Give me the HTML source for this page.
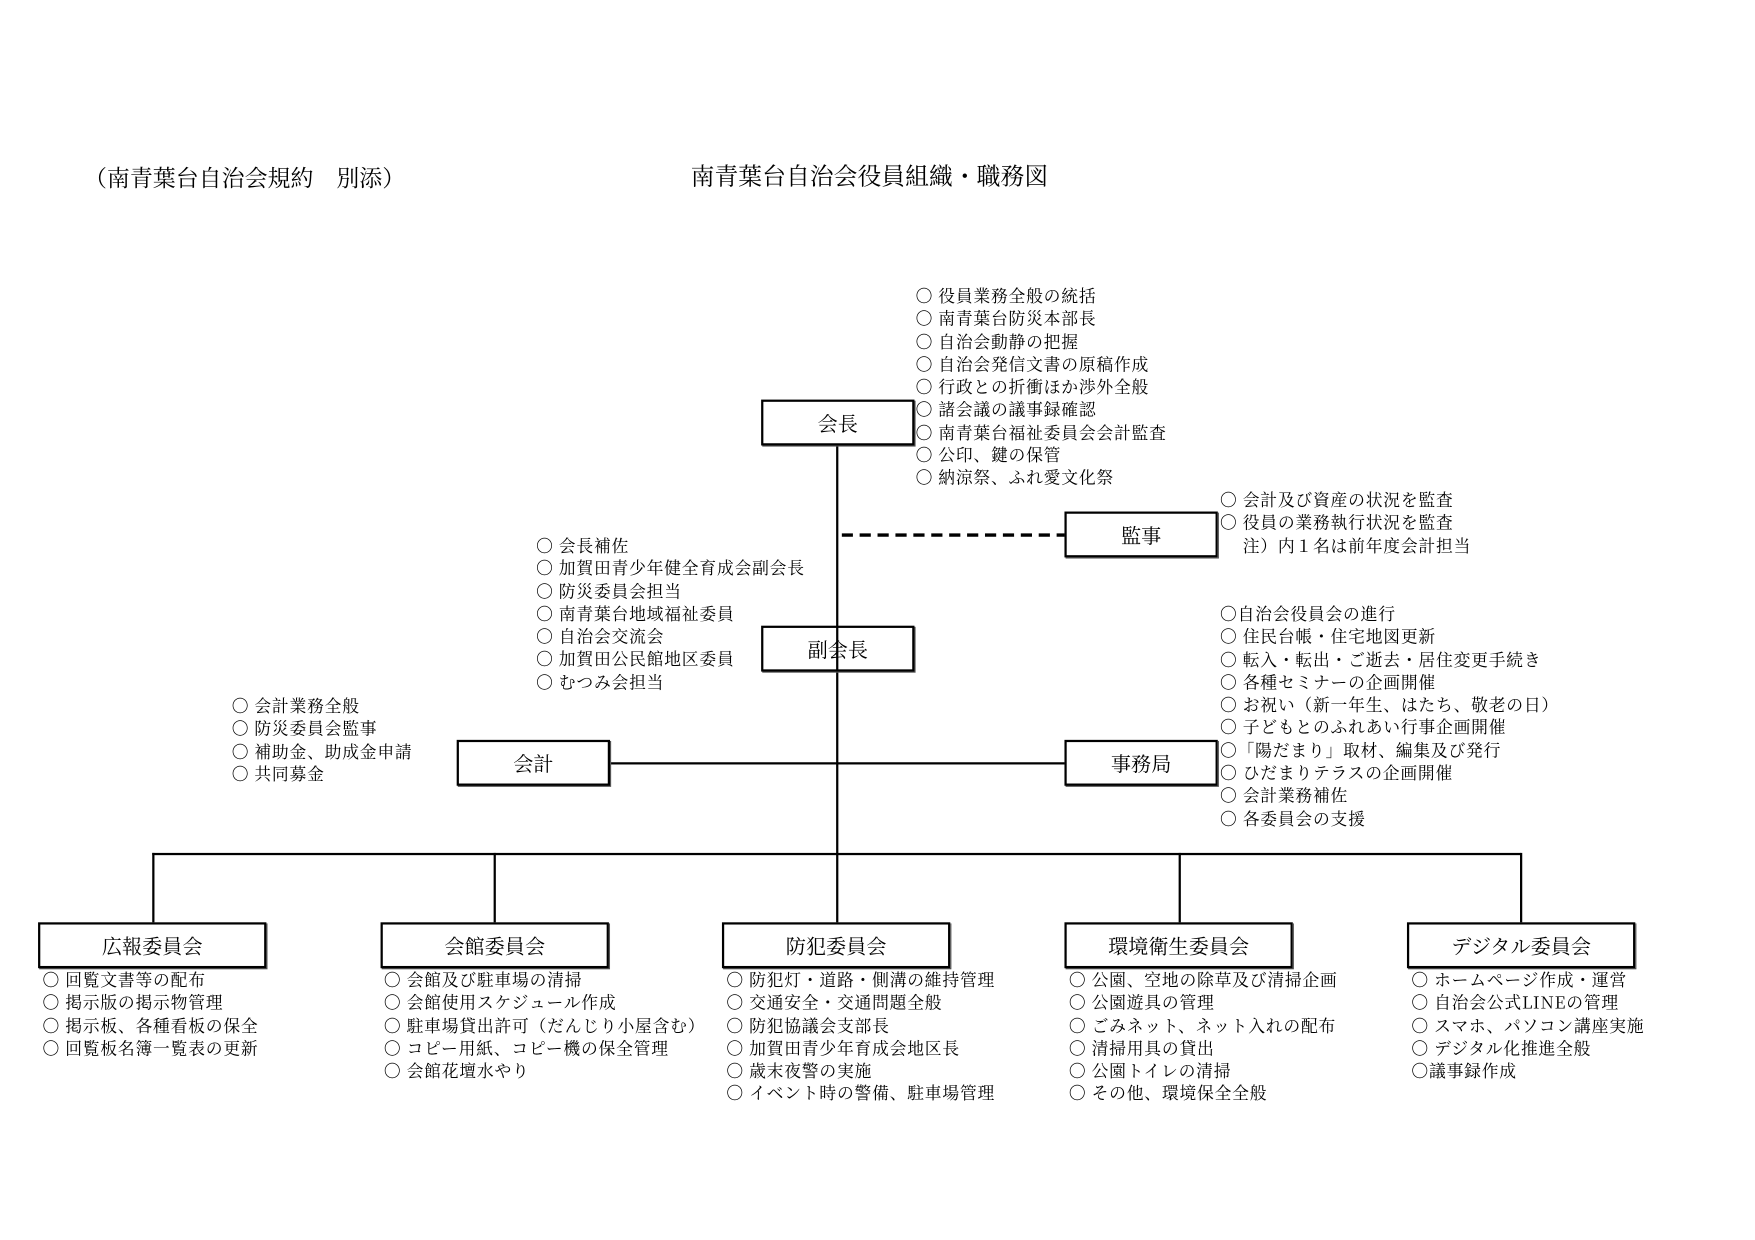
<!DOCTYPE html>
<html><head><meta charset="utf-8"><style>
html,body{margin:0;padding:0;background:#fff;width:1755px;height:1240px;overflow:hidden}
#w{position:absolute;left:0;top:0;width:1568px;height:1108px;transform:scale(1.1193);transform-origin:0 0;font-family:"Noto Serif CJK SC",serif;color:#000}
.b{position:absolute;border:2px solid #000;box-sizing:border-box;display:flex;align-items:center;justify-content:center;font-size:18px;box-shadow:1px 1px 0 #555}
.l{position:absolute;font-size:15px;line-height:20.3px;white-space:pre;letter-spacing:0.7px}
.h{position:absolute;background:#000;height:1.5px}
.v{position:absolute;background:#000;width:1.5px}
</style></head><body><div id="w">
<div class="l" style="left:75px;top:145px;font-size:20.5px;line-height:24px;letter-spacing:0">（南青葉台自治会規約　別添）</div>
<div class="l" style="left:617px;top:145px;font-size:21.3px;line-height:24px;letter-spacing:0">南青葉台自治会役員組織・職務図</div>

<div class="v" style="left:747px;top:397px;height:367px"></div>
<svg style="position:absolute;left:752px;top:475px" width="200" height="6"><line x1="0" y1="3" x2="199" y2="3" stroke="#000" stroke-width="3" stroke-dasharray="10,6"/></svg>
<div class="h" style="left:544px;top:681px;width:407px"></div>
<div class="h" style="left:136px;top:762px;width:1223px"></div>
<div class="v" style="left:136px;top:762px;height:62px"></div>
<div class="v" style="left:441px;top:762px;height:62px"></div>
<div class="v" style="left:1053px;top:762px;height:62px"></div>
<div class="v" style="left:1358px;top:762px;height:62px"></div>
<div class="v" style="left:747px;top:762px;height:62px"></div>

<div class="b" style="left:680px;top:357px;width:137px;height:41px">会長</div>
<div class="b" style="left:951px;top:457px;width:137px;height:41px">監事</div>
<div class="b" style="left:680px;top:559px;width:137px;height:41px">副会長</div>
<div class="b" style="left:408px;top:661px;width:137px;height:41px">会計</div>
<div class="b" style="left:951px;top:661px;width:137px;height:41px">事務局</div>
<div class="b" style="left:34px;top:824px;width:204px;height:41px">広報委員会</div>
<div class="b" style="left:340px;top:824px;width:204px;height:41px">会館委員会</div>
<div class="b" style="left:645px;top:824px;width:204px;height:41px">防犯委員会</div>
<div class="b" style="left:951px;top:824px;width:204px;height:41px">環境衛生委員会</div>
<div class="b" style="left:1257px;top:824px;width:204px;height:41px">デジタル委員会</div>

<div class="l" style="left:818px;top:255px">〇 役員業務全般の統括
〇 南青葉台防災本部長
〇 自治会動静の把握
〇 自治会発信文書の原稿作成
〇 行政との折衝ほか渉外全般
〇 諸会議の議事録確認
〇 南青葉台福祉委員会会計監査
〇 公印、鍵の保管
〇 納涼祭、ふれ愛文化祭</div>
<div class="l" style="left:1090px;top:437px">〇 会計及び資産の状況を監査
〇 役員の業務執行状況を監査
　 注）内１名は前年度会計担当</div>
<div class="l" style="left:479px;top:478px">〇 会長補佐
〇 加賀田青少年健全育成会副会長
〇 防災委員会担当
〇 南青葉台地域福祉委員
〇 自治会交流会
〇 加賀田公民館地区委員
〇 むつみ会担当</div>
<div class="l" style="left:207px;top:621px">〇 会計業務全般
〇 防災委員会監事
〇 補助金、助成金申請
〇 共同募金</div>
<div class="l" style="left:1090px;top:539px">〇自治会役員会の進行
〇 住民台帳・住宅地図更新
〇 転入・転出・ご逝去・居住変更手続き
〇 各種セミナーの企画開催
〇 お祝い（新一年生、はたち、敬老の日）
〇 子どもとのふれあい行事企画開催
〇「陽だまり」取材、編集及び発行
〇 ひだまりテラスの企画開催
〇 会計業務補佐
〇 各委員会の支援</div>
<div class="l" style="left:38px;top:866px">〇 回覧文書等の配布
〇 掲示版の掲示物管理
〇 掲示板、各種看板の保全
〇 回覧板名簿一覧表の更新</div>
<div class="l" style="left:343px;top:866px">〇 会館及び駐車場の清掃
〇 会館使用スケジュール作成
〇 駐車場貸出許可（だんじり小屋含む）
〇 コピー用紙、コピー機の保全管理
〇 会館花壇水やり</div>
<div class="l" style="left:649px;top:866px">〇 防犯灯・道路・側溝の維持管理
〇 交通安全・交通問題全般
〇 防犯協議会支部長
〇 加賀田青少年育成会地区長
〇 歳末夜警の実施
〇 イベント時の警備、駐車場管理</div>
<div class="l" style="left:955px;top:866px">〇 公園、空地の除草及び清掃企画
〇 公園遊具の管理
〇 ごみネット、ネット入れの配布
〇 清掃用具の貸出
〇 公園トイレの清掃
〇 その他、環境保全全般</div>
<div class="l" style="left:1261px;top:866px">〇 ホームページ作成・運営
〇 自治会公式LINEの管理
〇 スマホ、パソコン講座実施
〇 デジタル化推進全般
〇議事録作成</div>
</div></body></html>
